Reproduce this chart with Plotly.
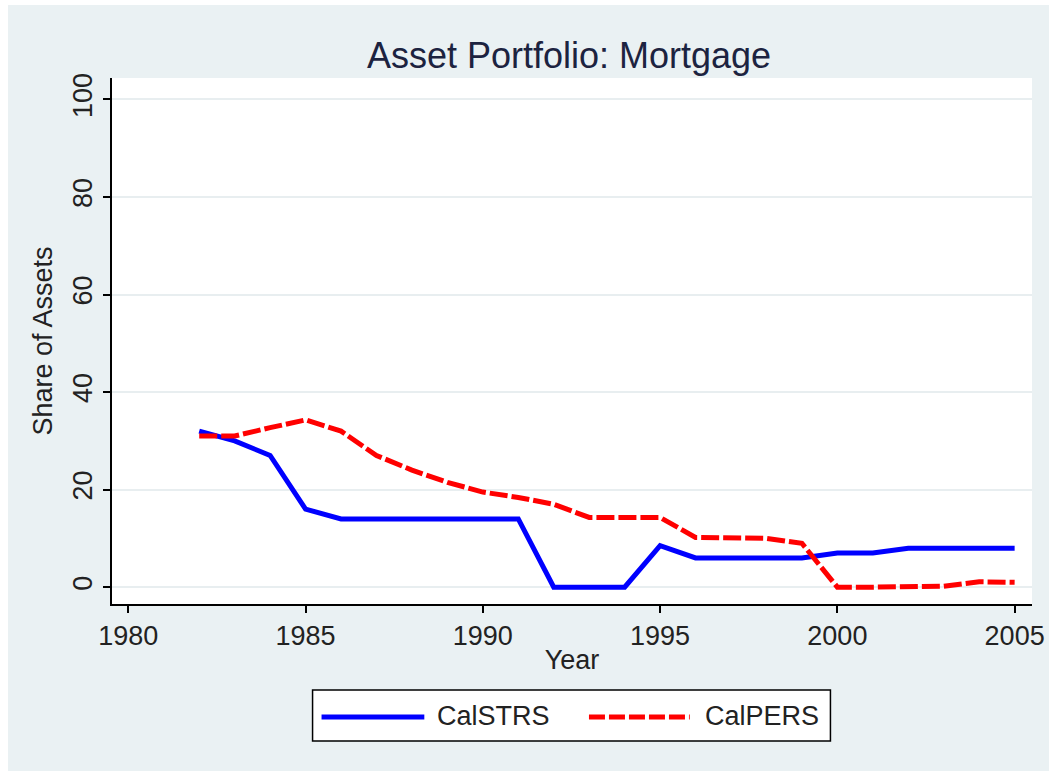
import plotly.graph_objects as go

# ---- data ----
years = list(range(1982, 2006))
calstrs = [32, 30, 27, 16, 14, 14, 14, 14, 14, 14, 0, 0, 0, 8.5, 6, 6, 6, 6, 7, 7, 8, 8, 8, 8]
calpers = [31, 31, 32.7, 34.3, 32, 27, 24, 21.5, 19.5, 18.4, 17, 14.3, 14.3, 14.3,
           10.2, 10.2, 10, 9, 0, 0, 0, 0.2, 1.1, 1]
series_names = ["CalSTRS", "CalPERS"]
x_ticks = [1980, 1985, 1990, 1995, 2000, 2005]
y_ticks = [0, 20, 40, 60, 80, 100]

# ---- layout geometry (page offset: 8px left, 5px top white border) ----
OFFX, OFFY = 8, 5
W, H = 1049, 771
ML, MR, MT, MB = 104, 23, 73, 172
PW, PH = W - ML - MR, H - MT - MB

def px_x(px):
    # px is a screen coordinate in the reference
    return (px - OFFX - ML) / PW

def px_y(py):
    return (H - MB - (py - OFFY)) / PH

BG = "#EAF1F3"
FONT = "Liberation Sans, Arial, sans-serif"
BLUE = "#0000FF"
RED = "#FF0000"
TXT = "#222222"

fig = go.Figure()
fig.add_trace(go.Scatter(x=years, y=calstrs, mode="lines", name=series_names[0],
                         line=dict(color=BLUE, width=5), showlegend=False))
fig.add_trace(go.Scatter(x=years, y=calpers, mode="lines", name=series_names[1],
                         line=dict(color=RED, width=5, dash="18px,4px"), showlegend=False))

shapes = []
# legend box
shapes.append(dict(type="rect", xref="paper", yref="paper",
                   x0=px_x(313), x1=px_x(832), y0=px_y(741), y1=px_y(690),
                   fillcolor="white", line=dict(color="black", width=1.5)))
shapes.append(dict(type="line", xref="paper", yref="paper",
                   x0=px_x(322), x1=px_x(425), y0=px_y(717), y1=px_y(717),
                   line=dict(color=BLUE, width=5)))
shapes.append(dict(type="line", xref="paper", yref="paper",
                   x0=px_x(590), x1=px_x(691), y0=px_y(717), y1=px_y(717),
                   line=dict(color=RED, width=5, dash="16px,4px")))

annotations = [
    dict(text=series_names[0], xref="paper", yref="paper", x=px_x(436), y=px_y(716),
         xanchor="left", yanchor="middle", showarrow=False,
         font=dict(family=FONT, size=27, color=TXT)),
    dict(text=series_names[1], xref="paper", yref="paper", x=px_x(704), y=px_y(716),
         xanchor="left", yanchor="middle", showarrow=False,
         font=dict(family=FONT, size=27, color=TXT)),
]

fig.update_layout(
    width=W, height=H,
    margin=dict(l=ML, r=MR, t=MT, b=MB, pad=0),
    paper_bgcolor=BG, plot_bgcolor="white",
    font=dict(family=FONT, size=27, color=TXT),
    title=dict(text="Asset Portfolio: Mortgage", x=px_x(570), xref="paper", xanchor="center",
               y=1 - (55 - OFFY) / H, yref="container", yanchor="middle",
               font=dict(family=FONT, size=36, color="#1c2340")),
    shapes=shapes,
    annotations=annotations,
    showlegend=False,
)

fig.update_xaxes(range=[1979.54, 2005.49], tickvals=x_ticks,
                 ticktext=[str(v) for v in x_ticks],
                 showgrid=False, zeroline=False,
                 showline=True, linecolor="black", linewidth=2,
                 ticks="outside", ticklen=7, tickwidth=1.5, tickcolor="black",
                 tickfont=dict(size=27, color=TXT),
                 title=dict(text="Year", standoff=0, font=dict(size=27, color=TXT)))
fig.update_yaxes(range=[-3.45, 104.4], tickvals=y_ticks,
                 ticktext=[str(v) for v in y_ticks],
                 showgrid=True, gridcolor="#E8EEF0", gridwidth=1.5, zeroline=False,
                 showline=True, linecolor="black", linewidth=2,
                 ticks="outside", ticklen=7, tickwidth=1.5, tickcolor="black",
                 tickangle=-90,
                 tickfont=dict(size=27, color=TXT),
                 title=dict(text="Share of Assets", standoff=8, font=dict(size=27, color=TXT)))

post_js = (
    "document.body.style.margin='%dpx 0 0 %dpx';"
    "document.documentElement.style.overflow='hidden';"
    "document.body.style.overflow='hidden';" % (OFFY, OFFX)
)
fig.write_html("out.html", post_script=post_js)
